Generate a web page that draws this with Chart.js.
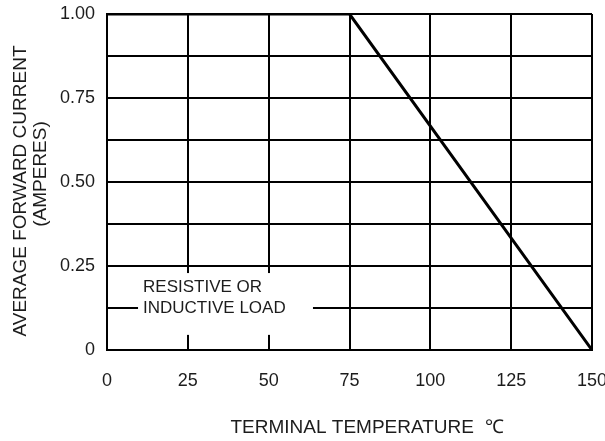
<!DOCTYPE html>
<html>
<head>
<meta charset="utf-8">
<script src="https://cdn.jsdelivr.net/npm/chart.js@4"></script>
<style>
  html, body { margin: 0; padding: 0; background: #fff; }
  #wrap { width: 605px; height: 441px; }
</style>
</head>
<body>
<div id="wrap"><canvas id="chart" width="605" height="441"></canvas></div>
<script>
  // derating curve: terminal temperature (°C) vs average forward current (A)
  const temps = [0, 75, 150];
  const current = [1.0, 1.0, 0];

  const yTickValues = [0, 0.25, 0.5, 0.75, 1];
  const yTickLabels = ["0", "0.25", "0.50", "0.75", "1.00"];

  const xTitle = "TERMINAL TEMPERATURE  \u2103";
  const yTitle = "AVERAGE FORWARD CURRENT";
  const yUnit = "(AMPERES)";
  const noteLines = ["RESISTIVE OR", "INDUCTIVE LOAD"];

  const ink = "#1c1c1c";
  const font = "'Liberation Sans', Arial, sans-serif";

  const textPlugin = {
    id: "deratingText",
    afterDraw(chart) {
      const { ctx, chartArea: a, scales } = chart;
      ctx.save();

      // white box behind the load note, over the grid
      const bx0 = scales.x.getPixelForValue(9.6);
      const bx1 = scales.x.getPixelForValue(63.7);
      const by0 = scales.y.getPixelForValue(0.229);
      const by1 = scales.y.getPixelForValue(0.045);
      ctx.fillStyle = "#fff";
      ctx.fillRect(bx0, by0, bx1 - bx0, by1 - by0);

      ctx.fillStyle = ink;
      ctx.font = "17px " + font;
      ctx.textAlign = "left";
      ctx.textBaseline = "middle";
      ctx.fillText(noteLines[0], bx0 + 5, by0 + 14);
      ctx.fillText(noteLines[1], bx0 + 5, by0 + 35);

      // axis titles
      ctx.font = "19px " + font;
      ctx.textAlign = "center";
      ctx.fillText(xTitle, a.left + 260, a.bottom + 78);

      ctx.save();
      ctx.translate(a.left - 86, (a.top + a.bottom) / 2 + 9);
      ctx.rotate(-Math.PI / 2);
      ctx.fillText(yTitle, 0, 0);
      ctx.restore();

      ctx.save();
      ctx.translate(a.left - 66, (a.top + a.bottom) / 2 - 8);
      ctx.rotate(-Math.PI / 2);
      ctx.fillText(yUnit, 0, 0);
      ctx.restore();

      ctx.restore();
    }
  };

  new Chart(document.getElementById("chart"), {
    type: "line",
    data: {
      datasets: [
        {
          data: temps.map((t, i) => ({ x: t, y: current[i] })),
          borderColor: "#000",
          borderWidth: 3,
          pointRadius: 0,
          tension: 0,
          fill: false
        }
      ]
    },
    options: {
      responsive: false,
      animation: false,
      layout: { padding: { top: 14, right: 13, left: 0, bottom: 0 } },
      plugins: {
        legend: { display: false },
        tooltip: { enabled: false }
      },
      scales: {
        x: {
          type: "linear",
          min: 0,
          max: 150,
          afterFit: (s) => {
            s.height = 91;
            s.paddingLeft = 0;
            s.paddingRight = 0;
          },
          ticks: {
            stepSize: 25,
            color: ink,
            padding: 20,
            maxRotation: 0,
            font: { family: font, size: 18 }
          },
          grid: { color: "#000", lineWidth: 2, drawTicks: false },
          border: { color: "#000", width: 2 }
        },
        y: {
          min: 0,
          max: 1,
          afterFit: (s) => {
            s.width = 107;
            s.paddingTop = 0;
            s.paddingBottom = 0;
          },
          ticks: {
            stepSize: 0.125,
            color: ink,
            padding: 12,
            font: { family: font, size: 18 },
            callback: (v) => {
              const i = yTickValues.findIndex((t) => Math.abs(t - v) < 1e-6);
              return i >= 0 ? yTickLabels[i] : "";
            }
          },
          grid: { color: "#000", lineWidth: 2, drawTicks: false },
          border: { color: "#000", width: 2 }
        }
      }
    },
    plugins: [textPlugin]
  });
</script>
</body>
</html>
